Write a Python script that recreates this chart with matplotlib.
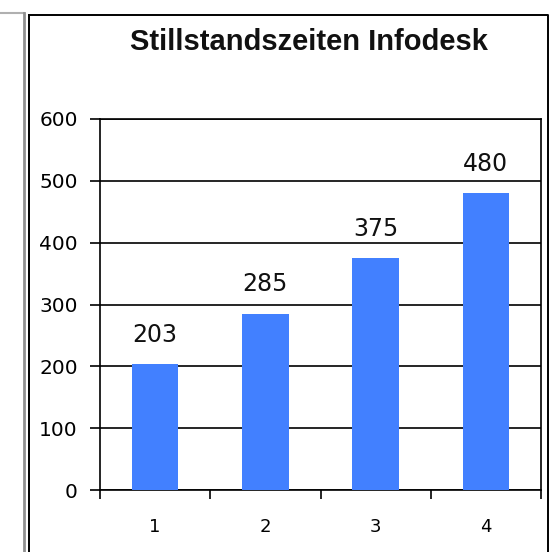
import matplotlib
matplotlib.use('Agg')
from matplotlib import pyplot as plt
from matplotlib.lines import Line2D

# data
categories = [1, 2, 3, 4]
values = [203, 285, 375, 480]
yticks = [0, 100, 200, 300, 400, 500, 600]
title = 'Stillstandszeiten Infodesk'

W, H = 557, 552
fig = plt.figure(figsize=(W / 100, H / 100), dpi=100)


def fx(px):
    return px / W


def fy(py):
    return 1 - py / H


# grey frame of the neighbouring panel on the left
fig.add_artist(Line2D([fx(0), fx(24)], [fy(13), fy(13)], color='#b0b0b0', lw=1.5))
fig.add_artist(Line2D([fx(24), fx(24)], [fy(13), fy(560)], color='#909090', lw=2.0))

# black chart box
fig.add_artist(Line2D([fx(28.5), fx(548), fx(548), fx(28.5), fx(28.5)],
                      [fy(15), fy(15), fy(560), fy(560), fy(15)],
                      color='black', lw=1.4))

ax = fig.add_axes([fx(100), fy(490), fx(541) - fx(100), fy(119) - fy(490)])

x = list(range(len(categories)))
bars = ax.bar(x, values, width=0.42, color='#4280ff', zorder=3)

ax.set_xlim(-0.5, len(categories) - 0.5)
ax.set_ylim(0, 600)
ax.set_yticks(yticks)
ax.yaxis.grid(True, color='black', lw=1.2, zorder=1)

ax.set_xticks([i - 0.5 for i in range(len(categories) + 1)])
ax.set_xticklabels([])
ax.set_xticks(x, minor=True)
ax.set_xticklabels([str(c) for c in categories], minor=True)
ax.tick_params(axis='x', which='major', direction='out', length=6.5, width=1.2)
ax.tick_params(axis='x', which='minor', length=0, pad=20, labelsize=13)
ax.tick_params(axis='y', direction='out', length=7, width=1.2, pad=9, labelsize=14.5)

for s in ax.spines.values():
    s.set_linewidth(1.2)
    s.set_color('black')

for xi, v in zip(x, values):
    ax.text(xi, v + 28, str(v), ha='center', va='bottom', fontsize=17, color='#111111')

fig.text(fx(309), fy(50), title, ha='center', va='baseline', fontsize=21,
         fontweight='bold', family='Liberation Sans', color='#111111')

fig.savefig('out.png', dpi=100)
